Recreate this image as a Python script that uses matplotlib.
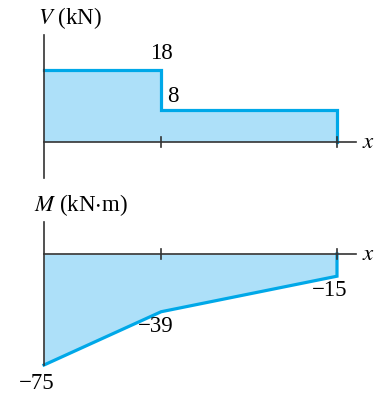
import matplotlib
matplotlib.use("Agg")
import matplotlib.pyplot as plt

plt.rcParams['font.family'] = ['Liberation Serif', 'DejaVu Serif']
plt.rcParams['mathtext.fontset'] = 'stix'

# Data
x_pts = [0, 2, 5]
shear_vals = [18, 8]            # kN on segments 0-2 and 2-5
moment_vals = [-75, -39, -15]   # kN*m at x = 0, 2, 5
shear_labels = ["18", "8"]
moment_labels = ["\u221275", "\u221239", "\u221215"]

fill_c = "#ade0f9"
line_c = "#00a8e8"
axis_c = "#333333"
FS = 16.5

W, H = 385, 397
fig = plt.figure(figsize=(W / 100, H / 100), dpi=100)

x0px, xscale = 44, 58.6
xl = (-x0px / xscale, (W - x0px) / xscale)

# ---------- Shear panel ----------
top_h = 190
ax1 = fig.add_axes([0, (H - top_h) / H, 1, top_h / H])
vs = 4.0
base1 = 142
ax1.set_xlim(*xl)
ax1.set_ylim(-(top_h - base1) / vs, base1 / vs)
ax1.axis('off')

vx = [x_pts[0], x_pts[1], x_pts[1], x_pts[2], x_pts[2]]
vy = [shear_vals[0], shear_vals[0], shear_vals[1], shear_vals[1], 0]
ax1.fill_between([x_pts[0], x_pts[1], x_pts[1], x_pts[2]],
                 [shear_vals[0], shear_vals[0], shear_vals[1], shear_vals[1]],
                 0, color=fill_c, lw=0, zorder=1)
ax1.plot(vx, vy, color=line_c, lw=2.3, solid_joinstyle='miter', zorder=3)
# axes
ax1.plot([0, 0], [-36 / vs, 107 / vs], color=axis_c, lw=1.2, zorder=4)
ax1.plot([0, 5.33], [0, 0], color=axis_c, lw=1.2, zorder=4)
for xt in x_pts[1:]:
    ax1.plot([xt, xt], [-5 / vs, 5 / vs], color=axis_c, lw=1.2, zorder=4)
ax1.text(5.43, 0, r"$x$", fontsize=FS, va='center', ha='left')
ax1.text(-0.1, 111 / vs, r"$V$ (kN)", fontsize=FS, va='bottom', ha='left')
ax1.annotate(shear_labels[0], (x_pts[1], shear_vals[0]), xytext=(0, 4),
             textcoords='offset points', fontsize=FS, ha='center', va='bottom')
ax1.annotate(shear_labels[1], (x_pts[1], shear_vals[1]), xytext=(4, 2),
             textcoords='offset points', fontsize=FS, ha='left', va='bottom')

# ---------- Moment panel ----------
bot_h = H - top_h
ax2 = fig.add_axes([0, 0, 1, bot_h / H])
ms = 1.48
base2 = 254 - top_h
ax2.set_xlim(*xl)
ax2.set_ylim(-(bot_h - base2) / ms, base2 / ms)
ax2.axis('off')

ax2.fill_between(x_pts, moment_vals, 0, color=fill_c, lw=0, zorder=1)
ax2.plot(x_pts + [x_pts[-1]], moment_vals + [0], color=line_c, lw=2.3,
         solid_joinstyle='miter', zorder=3)
ax2.plot([0, 0], [32 / ms, moment_vals[0]], color=axis_c, lw=1.2, zorder=4)
ax2.plot([0, 5.33], [0, 0], color=axis_c, lw=1.2, zorder=4)
for xt in x_pts[1:]:
    ax2.plot([xt, xt], [-5 / ms, 5 / ms], color=axis_c, lw=1.2, zorder=4)
ax2.text(5.43, 0, r"$x$", fontsize=FS, va='center', ha='left')
ax2.text(-0.17, 36 / ms, r"$M$ (kN$\cdot$m)", fontsize=FS, va='bottom', ha='left')
ax2.annotate(moment_labels[0], (x_pts[0], moment_vals[0]), xytext=(-5, -6),
             textcoords='offset points', fontsize=FS, ha='center', va='top')
ax2.annotate(moment_labels[1], (x_pts[1], moment_vals[1]), xytext=(-4, -3),
             textcoords='offset points', fontsize=FS, ha='center', va='top')
ax2.annotate(moment_labels[2], (x_pts[2], moment_vals[2]), xytext=(-5, -3),
             textcoords='offset points', fontsize=FS, ha='center', va='top')

fig.savefig("out.png", dpi=100, facecolor='white')
